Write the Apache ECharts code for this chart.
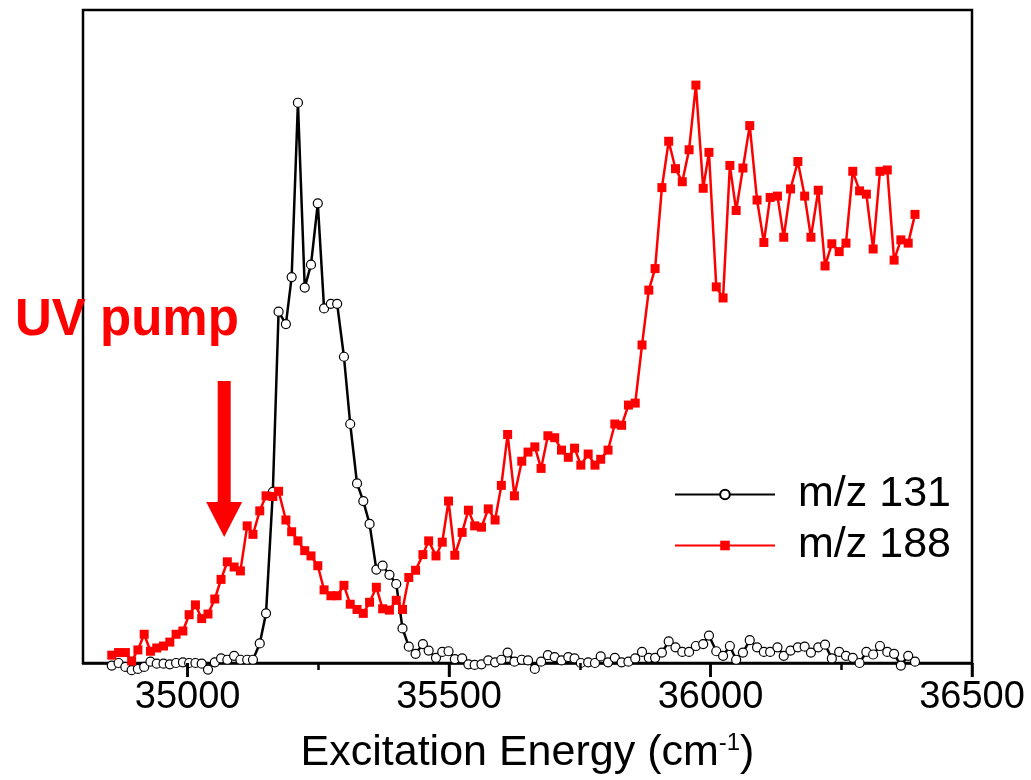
<!DOCTYPE html>
<html>
<head>
<meta charset="utf-8">
<script src="https://cdn.jsdelivr.net/npm/echarts@6/dist/echarts.min.js"></script>
<style>
  html, body { margin: 0; padding: 0; background: #fff; }
  #chart { width: 1031px; height: 780px; }
</style>
</head>
<body>
<div id="chart"></div>
<script>
// Excitation energy of each scan step (cm^-1), shared by both mass channels
const energy = [
  34855, 34868, 34881, 34893, 34905, 34917, 34929, 34941, 34954, 34966,
  34978, 34991, 35003, 35015, 35027, 35039, 35052, 35064, 35076, 35089,
  35101, 35114, 35125, 35138, 35150, 35163, 35174, 35188, 35199, 35211,
  35224, 35236, 35249, 35261, 35274, 35286, 35299, 35311, 35324, 35336,
  35348, 35361, 35373, 35386, 35399, 35411, 35423, 35436, 35450, 35461,
  35475, 35487, 35499, 35511, 35525, 35537, 35549, 35562, 35575, 35588,
  35600, 35612, 35625, 35639, 35651, 35664, 35676, 35689, 35702, 35715,
  35728, 35740, 35752, 35766, 35779, 35790, 35804, 35817, 35830, 35843,
  35856, 35869, 35882, 35894, 35907, 35920, 35933, 35946, 35959, 35972,
  35986, 35997, 36011, 36024, 36037, 36049, 36062, 36075, 36089, 36102,
  36114, 36128, 36140, 36153, 36167, 36180, 36192, 36206, 36219, 36232,
  36246, 36259, 36272, 36285, 36298, 36311, 36324, 36338, 36351, 36364,
  36378, 36391
];

// Ion signal, m/z 131 (arb. units)
const m131 = [
  -0.4, 0.0, -0.6, -1.1, -0.9, -0.6, 0.2, -0.1, -0.1, -0.2,
  0.0, 0.1, 0.0, 0.0, -0.1, -1.0, 0.1, 0.7, 0.5, 1.1,
  0.5, 0.5, 0.5, 3.0, 7.6, 26.2, 53.8, 51.9, 59.1, 85.8,
  57.5, 61.0, 70.4, 54.3, 55.0, 55.0, 46.9, 36.6, 27.5, 24.8,
  21.3, 14.3, 14.9, 13.5, 12.1, 5.3, 2.5, 1.4, 2.9, 1.9,
  0.8, 1.7, 1.8, 0.6, 0.7, -0.2, -0.3, -0.2, 0.4, 0.1,
  0.5, 1.6, 0.2, 0.5, 0.4, -0.9, 0.2, 1.2, 0.9, 0.4,
  0.9, 0.7, 0.0, 0.1, 0.0, 1.0, 0.1, 0.8, 0.1, 0.2,
  0.7, 1.7, 0.8, 0.8, 1.6, 3.3, 2.4, 1.7, 1.7, 2.6,
  2.9, 4.2, 1.8, 1.1, 2.6, 0.5, 1.6, 3.5, 2.4, 1.7,
  1.7, 2.4, 1.1, 1.9, 2.4, 2.5, 1.6, 2.4, 2.8, 0.7,
  1.7, 1.1, 0.8, 0.0, 1.7, 1.3, 2.6, 1.7, 1.4, -0.4,
  1.1, 0.2
];

// Ion signal, m/z 188 (arb. units)
const m188 = [
  1.2, 1.6, 1.6, 0.3, 2.0, 4.4, 1.8, 2.3, 2.6, 3.2,
  4.4, 4.9, 7.4, 8.9, 6.8, 7.5, 9.8, 12.8, 15.5, 14.7,
  14.1, 21.0, 19.7, 23.3, 25.6, 25.5, 26.3, 21.9, 20.1, 18.7,
  17.2, 16.4, 14.9, 11.2, 10.3, 10.3, 11.9, 9.0, 8.2, 7.6,
  9.3, 11.6, 8.3, 8.1, 9.6, 8.2, 13.1, 14.2, 16.6, 18.7,
  16.4, 18.5, 24.8, 16.5, 20.0, 23.4, 21.0, 20.8, 23.6, 21.9,
  27.2, 35.0, 25.6, 30.9, 32.3, 33.1, 29.8, 34.8, 34.5, 32.6,
  31.5, 32.9, 30.3, 32.0, 30.3, 31.2, 32.6, 36.6, 36.4, 39.5,
  39.8, 48.7, 57.1, 60.4, 72.8, 79.9, 75.7, 73.7, 78.6, 88.5,
  72.7, 78.2, 57.6, 55.9, 76.2, 69.3, 75.8, 82.3, 70.9, 64.4,
  71.3, 71.5, 65.2, 72.6, 76.8, 71.5, 65.2, 72.4, 60.8, 64.2,
  63.0, 64.3, 75.3, 72.3, 71.8, 63.4, 75.3, 75.5, 61.7, 64.8,
  64.3, 68.7
];

const seriesNames = ['m/z 131', 'm/z 188'];
const tickLabels = [35000, 35500, 36000, 36500];
const xMin = 34800, xMax = 36500;
const tickStart = 35000, tickStep = 500;
const pumpEnergy = 35070;   // where the UV pump arrow points
const pumpLabel = 'UV pump';

const FONT = '"Liberation Sans", Arial, Helvetica, sans-serif';
const pair = ys => energy.map((e, i) => [e, ys[i]]);

// Plot box in pixels; a second, invisible grid starting at the first
// labelled energy carries the minor tick marks.
const W = 1031;
const box = { left: 83, right: 59, top: 10, bottom: 117 };
const plotW = W - box.left - box.right;
const tickGridLeft = box.left + (tickStart - xMin) / (xMax - xMin) * plotW;
const majorLen = 14, minorLen = 7, tickWidth = 2.5;

const chart = echarts.init(document.getElementById('chart'), null, { renderer: 'canvas' });

chart.setOption({
  animation: false,
  backgroundColor: '#fff',
  grid: [
    {
      left: box.left, right: box.right, top: box.top, bottom: box.bottom,
      show: true, borderColor: '#000', borderWidth: 2.5, backgroundColor: 'transparent'
    },
    { left: tickGridLeft, right: box.right, top: box.top, bottom: box.bottom, show: false }
  ],
  xAxis: [
    {
      gridIndex: 0, type: 'value', min: xMin, max: xMax, position: 'bottom',
      name: '{t|Excitation Energy (cm}{s|-1}{t|)}',
      nameLocation: 'middle', nameGap: 68,
      nameTextStyle: {
        rich: {
          t: { fontFamily: FONT, fontSize: 43, color: '#000' },
          s: { fontFamily: FONT, fontSize: 24, color: '#000', padding: [0, 0, 20, 0] }
        }
      },
      axisLine: { show: true, onZero: false, lineStyle: { color: '#000', width: 2.5 } },
      axisTick: { show: false },
      axisLabel: {
        customValues: tickLabels, showMinLabel: true, showMaxLabel: true,
        formatter: v => String(v),
        fontFamily: FONT, fontSize: 38, color: '#000', margin: 16
      },
      splitLine: { show: false }
    },
    {
      gridIndex: 1, type: 'value', min: tickStart, max: xMax, interval: tickStep,
      position: 'bottom', z: 20,
      axisLine: { show: false, onZero: false },
      axisTick: { show: true, inside: false, length: majorLen, lineStyle: { color: '#000', width: tickWidth } },
      minorTick: { show: true, splitNumber: 2, length: minorLen, lineStyle: { color: '#000', width: tickWidth } },
      axisLabel: { show: false },
      splitLine: { show: false }
    }
  ],
  yAxis: [
    {
      gridIndex: 0, type: 'value', min: 0, max: 100,
      axisLine: { show: false }, axisTick: { show: false },
      axisLabel: { show: false }, splitLine: { show: false }
    },
    {
      gridIndex: 1, type: 'value', min: 0, max: 100, show: false
    }
  ],
  legend: {
    orient: 'vertical', left: 669, top: 468,
    itemWidth: 100, itemHeight: 12, itemGap: 8,
    textStyle: { fontFamily: FONT, fontSize: 43, color: '#000', padding: [0, 0, 0, 18] },
    data: seriesNames
  },
  series: [
    {
      name: seriesNames[0], type: 'line', xAxisIndex: 0, yAxisIndex: 0, data: pair(m131),
      symbol: 'circle', symbolSize: 9, clip: false,
      lineStyle: { color: '#000', width: 2.5 },
      itemStyle: { color: '#fff', borderColor: '#000', borderWidth: 1.2 }
    },
    {
      name: seriesNames[1], type: 'line', xAxisIndex: 0, yAxisIndex: 0, data: pair(m188),
      symbol: 'rect', symbolSize: 9, clip: false,
      lineStyle: { color: '#ff0000', width: 2.5 },
      itemStyle: { color: '#ff0000' }
    }
  ]
});

// Major tick marks under each labelled energy, placed through the x axis
const toPx = (x, y) => chart.convertToPixel({ xAxisIndex: 0, yAxisIndex: 0 }, [x, y]);
const majorTickMarks = tickLabels.map(v => {
  const p = toPx(v, 0);
  return {
    type: 'line', z: 50,
    shape: { x1: p[0], y1: p[1], x2: p[0], y2: p[1] + majorLen },
    style: { stroke: '#000', lineWidth: tickWidth }
  };
});

// Pump annotation: a block arrow pointing at the pump energy, with its label above
const tip = toPx(pumpEnergy, 19.3);
const shaftHalf = 6.5, headHalf = 18, headLen = 35, shaftLen = 121;
chart.setOption({
  graphic: majorTickMarks.concat([
    {
      type: 'polygon', z: 100,
      shape: {
        points: [
          [tip[0] - shaftHalf, tip[1] - headLen - shaftLen],
          [tip[0] + shaftHalf, tip[1] - headLen - shaftLen],
          [tip[0] + shaftHalf, tip[1] - headLen],
          [tip[0] + headHalf, tip[1] - headLen],
          [tip[0], tip[1]],
          [tip[0] - headHalf, tip[1] - headLen],
          [tip[0] - shaftHalf, tip[1] - headLen]
        ]
      },
      style: { fill: '#ff0000' }
    },
    {
      type: 'text', z: 100, x: 15, y: 295,
      style: {
        text: pumpLabel, fill: '#ff0000',
        font: 'bold 51px "Liberation Sans", Arial, sans-serif',
        verticalAlign: 'top', align: 'left'
      }
    }
  ])
});
</script>
</body>
</html>
